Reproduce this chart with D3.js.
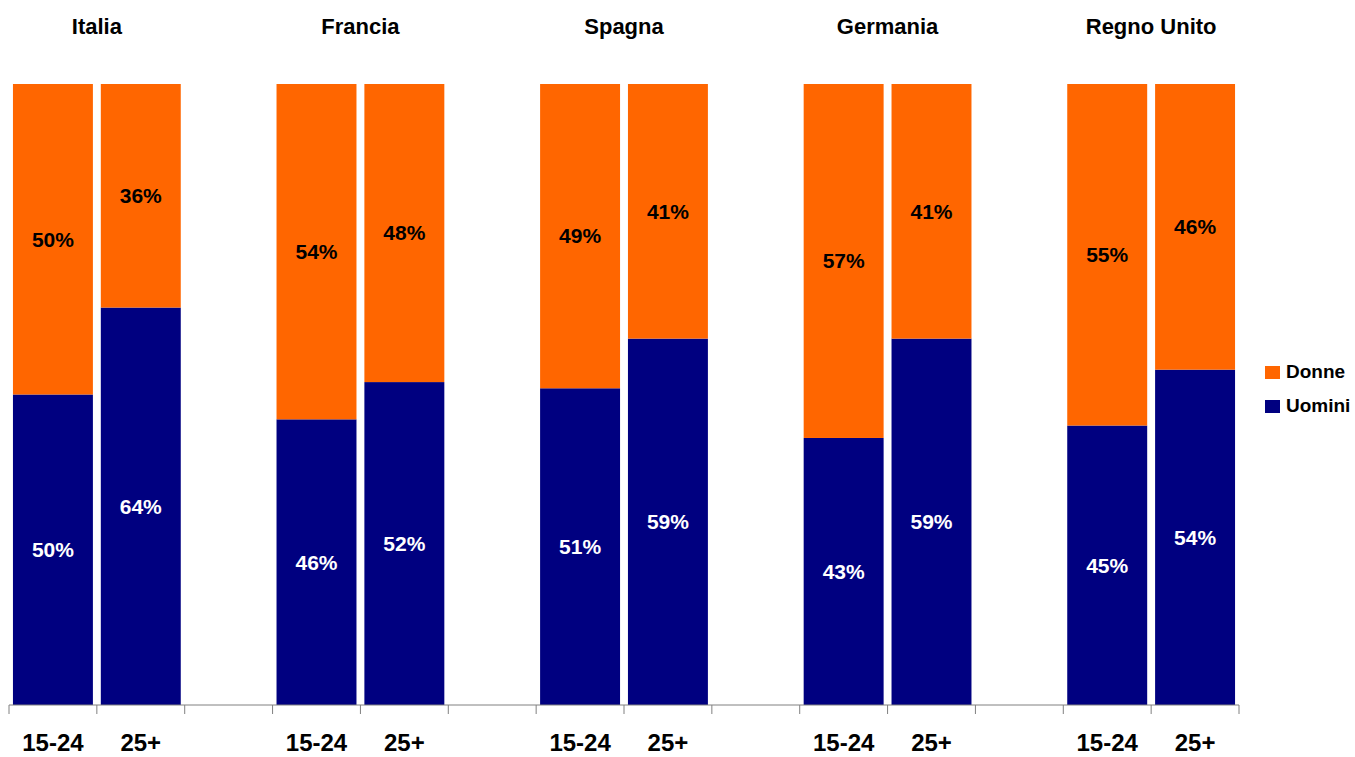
<!DOCTYPE html>
<html>
<head>
<meta charset="utf-8">
<script src="https://cdn.jsdelivr.net/npm/d3@7"></script>
<style>
  body { margin: 0; background: #fff; }
  text { font-family: "Liberation Sans", Arial, sans-serif; font-weight: bold; }
</style>
</head>
<body>
<div id="app"></div>
<script>
// data
let countries = ['Italia', 'Francia', 'Spagna', 'Germania', 'Regno Unito'];
let ageGroups = ['15-24', '25+'];
let uomini = [50, 64, 46, 52, 51, 59, 43, 59, 45, 54];
let donne = [50, 36, 54, 48, 49, 41, 57, 41, 55, 46];

let W = 1355, H = 757;
let margin = { top: 84, left: 9, bottom: 52, right: 116 };
let w = 1239 - margin.left; let h = 705 - margin.top;

// 14 slots: two bars per country plus an empty gap between countries
let slots = [];
countries.forEach((c, i) => {
  ageGroups.forEach((a) => slots.push({ key: c + '|' + a, country: c, age: a }));
  if (i < countries.length - 1) slots.push({ key: 'gap' + i, gap: true });
});
let rows = slots.filter((d) => !d.gap).map((d, i) => Object.assign(d, { u: uomini[i], d: donne[i] }));

let xScale = d3.scaleBand()
  .domain(slots.map((d) => d.key))
  .range([0, w])
  .paddingInner(0.09)
  .paddingOuter(0.045);

let yScale = d3.scaleLinear()
  .domain([0, 100])
  .range([h, 0]);

let svg = d3.select('#app').append('svg')
  .attr('width', W)
  .attr('height', H);

let g = svg.append('g')
  .attr('transform', 'translate(' + margin.left + ',' + margin.top + ')');

let stack = d3.stack().keys(['u', 'd'])(rows);
let colors = { u: '#000080', d: '#FF6600' };

stack.forEach((layer) => {
  g.append('g').selectAll('rect')
    .data(layer)
    .join('rect')
    .attr('x', (d) => xScale(d.data.key))
    .attr('width', xScale.bandwidth())
    .attr('y', (d) => yScale(d[1]))
    .attr('height', (d) => yScale(d[0]) - yScale(d[1]))
    .attr('fill', colors[layer.key]);

  g.append('g').selectAll('text')
    .data(layer)
    .join('text')
    .attr('x', (d) => xScale(d.data.key) + xScale.bandwidth() / 2)
    .attr('y', (d) => (yScale(d[0]) + yScale(d[1])) / 2)
    .attr('dy', '0.35em')
    .attr('text-anchor', 'middle')
    .attr('font-size', 21)
    .attr('fill', layer.key === 'u' ? '#fff' : '#000')
    .text((d) => (d[1] - d[0]) + '%');
});

// axis with tick marks at slot boundaries
let ax = g.append('g').attr('transform', 'translate(0,' + h + ')');
ax.append('line')
  .attr('x1', 0).attr('x2', w)
  .attr('stroke', '#808080').attr('stroke-width', 1);
ax.selectAll('line.tick')
  .data(d3.range(slots.length + 1))
  .join('line')
  .attr('class', 'tick')
  .attr('x1', (i) => i * w / slots.length)
  .attr('x2', (i) => i * w / slots.length)
  .attr('y1', 0).attr('y2', 9)
  .attr('stroke', '#808080');

ax.selectAll('text')
  .data(rows)
  .join('text')
  .attr('x', (d) => xScale(d.key) + xScale.bandwidth() / 2)
  .attr('y', 46)
  .attr('text-anchor', 'middle')
  .attr('font-size', 24)
  .attr('fill', '#000')
  .text((d) => d.age);

// country titles
g.selectAll('text.country')
  .data(countries)
  .join('text')
  .attr('class', 'country')
  .attr('x', (c) => {
    let a = xScale(c + '|' + ageGroups[0]);
    let b = xScale(c + '|' + ageGroups[1]) + xScale.bandwidth();
    return (a + b) / 2;
  })
  .attr('y', -50)
  .attr('text-anchor', 'middle')
  .attr('font-size', 22)
  .attr('fill', '#000')
  .text((c) => c);

// legend
let legend = svg.append('g').attr('transform', 'translate(1265,366)');
[['Donne', colors.d], ['Uomini', colors.u]].forEach((l, i) => {
  legend.append('rect')
    .attr('x', 0).attr('y', i * 34)
    .attr('width', 15).attr('height', 13)
    .attr('fill', l[1]);
  legend.append('text')
    .attr('x', 21).attr('y', i * 34 + 12)
    .attr('font-size', 19)
    .attr('fill', '#000')
    .text(l[0]);
});
</script>
</body>
</html>
